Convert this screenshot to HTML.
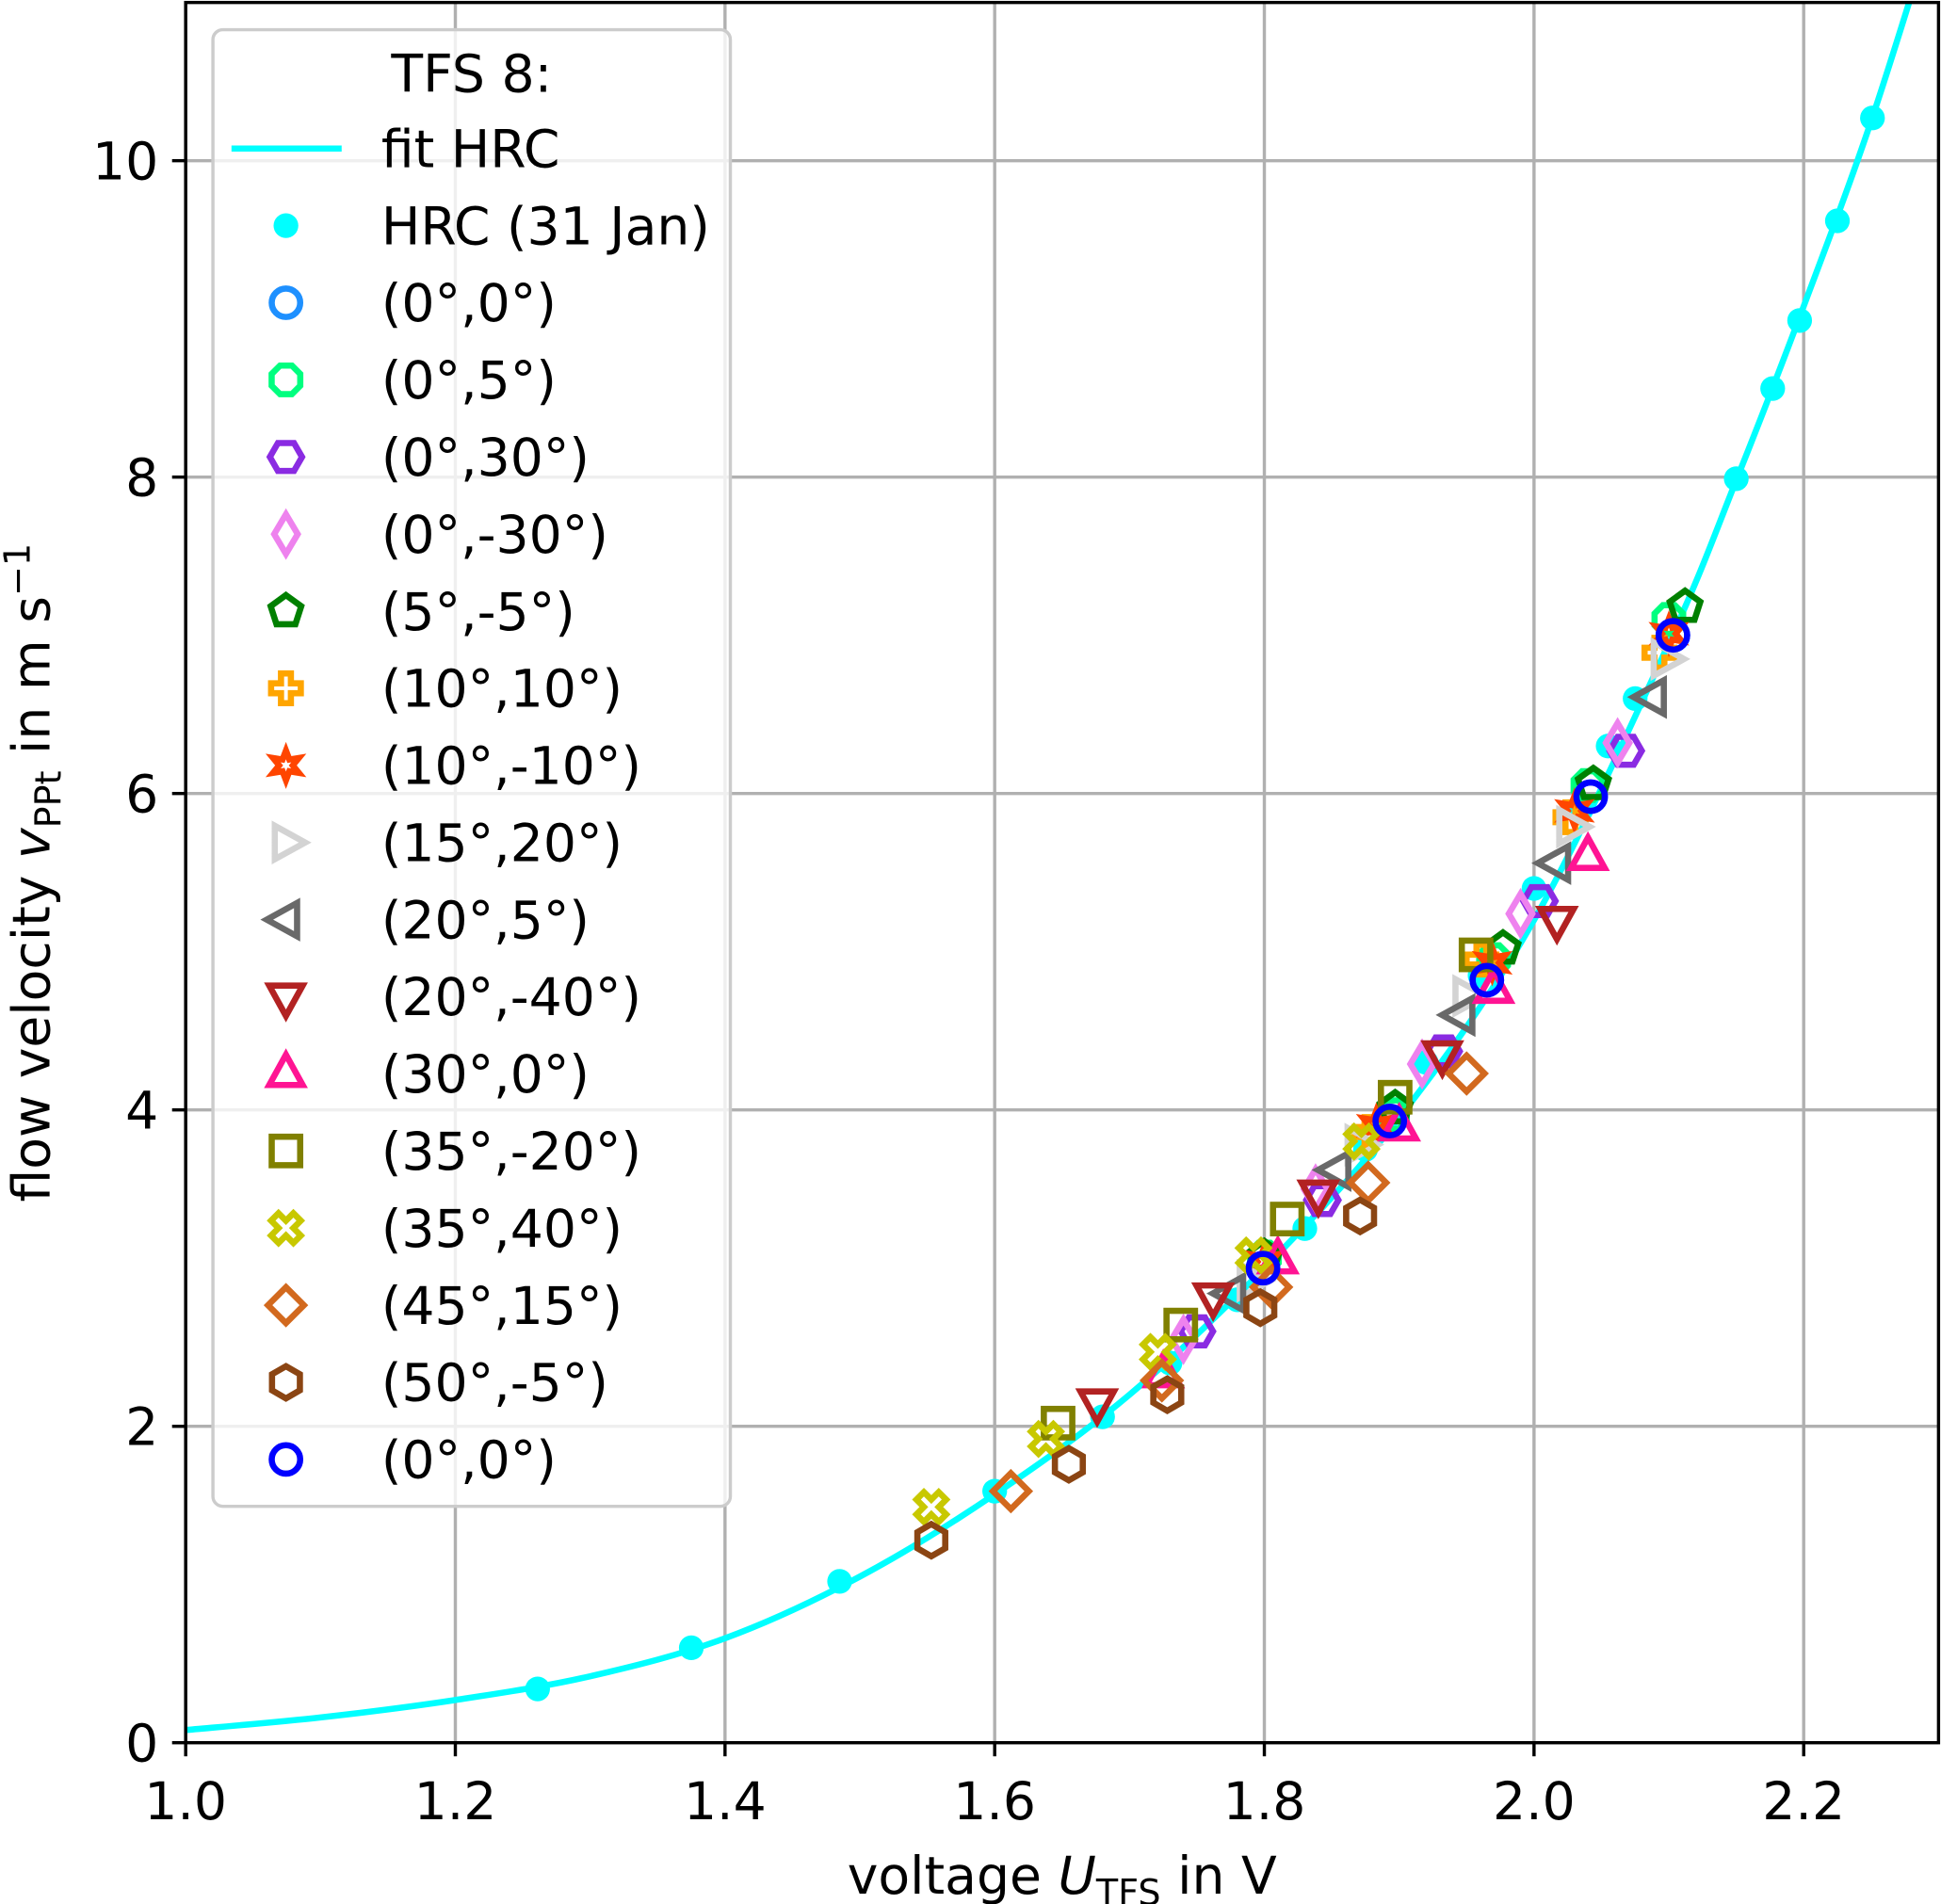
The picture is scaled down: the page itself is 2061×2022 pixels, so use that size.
<!DOCTYPE html>
<html><head><meta charset="utf-8"><style>
html,body{margin:0;padding:0;background:#fff;}
svg{display:block;font-family:"DejaVu Sans","Liberation Sans",sans-serif;}
</style></head><body>
<svg id="chart" width="2061" height="2022" viewBox="0 0 1568 1538.3" xmlns="http://www.w3.org/2000/svg">
<g id="grid"></g>
<g id="fit"></g>
<g id="marks"></g>
<rect x="150" y="2" width="1416" height="1406" fill="none" stroke="#000" stroke-width="2.6"/>
<g id="ticks"></g>
<text x="858" y="1530" font-size="42" text-anchor="middle">voltage <tspan font-style="italic">U</tspan><tspan font-size="29" dy="9">TFS</tspan><tspan dy="-9"> in V</tspan></text>
<text transform="translate(40,705) rotate(-90)" font-size="42" text-anchor="middle">flow velocity <tspan font-style="italic">v</tspan><tspan font-size="29" dy="9">PPt</tspan><tspan dy="-9"> in m s</tspan><tspan font-size="29" dy="-16">−1</tspan></text>
<g id="legend"></g>
</svg>
<script>
const xTicks=[1.0,1.2,1.4,1.6,1.8,2.0,2.2];
const yTicks=[0,2,4,6,8,10];
const fitU=[1.0,1.1,1.2,1.3,1.4,1.5,1.6,1.7,1.8,1.9,2.0,2.1,2.15,2.2,2.25,2.3];
const fitV=[0.08,0.16,0.27,0.42,0.66,1.05,1.57,2.2,3.0,3.95,5.2,6.95,7.98,9.08,10.25,11.6];
const hrcU=[1.261,1.375,1.485,1.6,1.68,1.73,1.78,1.83,1.875,1.92,1.96,2.0,2.035,2.055,2.075,2.15,2.177,2.197,2.225,2.251];
const hrcV=[0.34,0.6,1.02,1.59,2.06,2.4,2.8,3.25,3.75,4.3,4.85,5.4,5.9,6.3,6.6,7.99,8.56,8.99,9.62,10.27];
const seriesNames=["(0°,0°)","(0°,5°)","(0°,30°)","(0°,-30°)","(5°,-5°)","(10°,10°)","(10°,-10°)","(15°,20°)","(20°,5°)","(20°,-40°)","(30°,0°)","(35°,-20°)","(35°,40°)","(45°,15°)","(50°,-5°)","(0°,0°)"];
const seriesColors=["#1e90ff","#00ff7f","#8a2be2","#ee82ee","#008000","#ffa500","#ff4500","#d3d3d3","#696969","#b22222","#ff1493","#808000","#c8c800","#d2691e","#8b4513","#0000ff"];
const seriesShapes=["o","8","H","d","p","P","*",">","<","v","^","s","X","D","h","o"];
const sU=[
[1.799,1.893,1.965,2.042,2.103],
[1.80,1.895,1.97,2.04,2.10],
[1.75,1.843,1.933,2.004,2.068],
[1.74,1.838,1.917,1.99,2.062],
[1.80,1.897,1.977,2.044,2.112],
[1.878,1.961,2.027,2.093],
[1.80,1.883,1.969,2.03,2.10],
[1.79,1.87,1.95,2.027,2.097],
[1.776,1.854,1.946,2.017,2.088],
[1.676,1.762,1.84,1.932,2.017],
[1.725,1.81,1.90,1.97,2.04],
[1.647,1.738,1.817,1.897,1.957],
[1.553,1.638,1.721,1.792,1.872],
[1.612,1.724,1.805,1.877,1.95],
[1.553,1.655,1.728,1.797,1.871],
[1.799,1.893,1.965,2.042,2.103]];
const sV=[
[3.0,3.93,4.82,5.98,7.0],
[3.07,3.97,4.95,6.05,7.1],
[2.6,3.43,4.37,5.32,6.27],
[2.55,3.5,4.29,5.24,6.32],
[3.07,4.01,5.02,6.06,7.18],
[3.86,4.95,5.85,6.89],
[3.04,3.9,4.93,5.89,7.01],
[2.92,3.78,4.72,5.79,6.85],
[2.84,3.62,4.6,5.56,6.61],
[2.15,2.82,3.47,4.35,5.2],
[2.33,3.05,3.89,4.76,5.6],
[2.02,2.64,3.31,4.08,4.98],
[1.49,1.92,2.47,3.08,3.8],
[1.59,2.29,2.88,3.54,4.23],
[1.28,1.76,2.2,2.75,3.33],
[3.0,3.93,4.82,5.98,7.0]];

const NS="http://www.w3.org/2000/svg";
const X0=150,X1=1566,Y0=1408,Y1=2;
const FS=42;
function sx(u){return X0+(u-1.0)/(2.3-1.0)*(X1-X0);}
function sy(v){return Y0-v/11*(Y0-Y1);}
function mk(tag,attrs,parent){const e=document.createElementNS(NS,tag);for(const k in attrs)e.setAttribute(k,attrs[k]);parent.appendChild(e);return e;}
const grid=document.getElementById('grid'),ticks=document.getElementById('ticks');
xTicks.forEach(t=>{const x=sx(t);
 const g=mk('line',{x1:x,x2:x,y1:Y1,y2:Y0,stroke:'#b0b0b0','stroke-width':2.6},grid);
 
 
 const tk=mk('line',{x1:x,x2:x,y1:Y0,y2:Y0+11,stroke:'#000','stroke-width':2.6},ticks);
 
 
 const tl=mk('text',{x:x,y:Y0+62,'font-size':FS,'text-anchor':'middle'},ticks);tl.textContent=t.toFixed(1);
 
 });
yTicks.forEach(t=>{const y=sy(t);
 const g=mk('line',{x1:X0,x2:X1,y1:y,y2:y,stroke:'#b0b0b0','stroke-width':2.6},grid);
 
 
 const tk=mk('line',{x1:X0-11,x2:X0,y1:y,y2:y,stroke:'#000','stroke-width':2.6},ticks);
 
 
 const tl=mk('text',{x:X0-22,y:y+15,'font-size':FS,'text-anchor':'end'},ticks);tl.textContent=String(t);
 
 });
(function(){const p=fitU.map((u,i)=>[sx(u),sy(fitV[i])]);let d='M'+p[0][0]+','+p[0][1];
 for(let i=0;i<p.length-1;i++){const a=p[Math.max(0,i-1)],b=p[i],c=p[i+1],e=p[Math.min(p.length-1,i+2)];
 d+=' C'+(b[0]+(c[0]-a[0])/6)+','+(b[1]+(c[1]-a[1])/6)+' '+(c[0]-(e[0]-b[0])/6)+','+(c[1]-(e[1]-b[1])/6)+' '+c[0]+','+c[1];}
 const fg=document.getElementById('fit');
 mk('clipPath',{id:'clip'},fg).appendChild(document.createElementNS(NS,'rect'));
 const r=fg.querySelector('rect');r.setAttribute('x',X0);r.setAttribute('y',Y1);r.setAttribute('width',X1-X0);r.setAttribute('height',Y0-Y1);
 const l=mk('path',{d:d,fill:'none',stroke:'#00ffff','stroke-width':5,'clip-path':'url(#clip)'},fg);
 
 })();
function poly(n,r,rot){const pts=[];for(let i=0;i<n;i++){const a=rot+i*2*Math.PI/n;pts.push((r*Math.sin(a)).toFixed(2)+','+(-r*Math.cos(a)).toFixed(2));}return pts.join(' ');}
function shape(s,x,y,col,parent){const g=mk('g',{transform:'translate('+x+','+y+')',fill:'none',stroke:col,'stroke-width':5,'stroke-linejoin':'miter'},parent);
 if(s==='o')mk('circle',{r:11.5},g);
 else if(s==='8')mk('polygon',{points:poly(8,12.5,Math.PI/8)},g);
 else if(s==='H')mk('polygon',{points:poly(6,13,Math.PI/2)},g);
 else if(s==='h')mk('polygon',{points:poly(6,13,0)},g);
 else if(s==='p')mk('polygon',{points:poly(5,13,0)},g);
 else if(s==='d')mk('polygon',{points:'0,-16 9.5,0 0,16 -9.5,0'},g);
 else if(s==='D')mk('polygon',{points:'0,-14.5 14.5,0 0,14.5 -14.5,0'},g);
 else if(s==='s')mk('rect',{x:-11.5,y:-11.5,width:23,height:23},g);
 else if(s==='^')mk('polygon',{points:'0,-15.5 13.5,9 -13.5,9'},g);
 else if(s==='v')mk('polygon',{points:'0,15.5 13.5,-9 -13.5,-9'},g);
 else if(s==='>')mk('polygon',{points:'15.5,0 -9,13.5 -9,-13.5'},g);
 else if(s==='<')mk('polygon',{points:'-15.5,0 9,13.5 9,-13.5'},g);
 else if(s==='P')mk('polygon',{points:'-4,-12 4,-12 4,-4 12,-4 12,4 4,4 4,12 -4,12 -4,4 -12,4 -12,-4 -4,-4'},g);
 else if(s==='X')mk('polygon',{points:'-6,-12 0,-6 6,-12 12,-6 6,0 12,6 6,12 0,6 -6,12 -12,6 -6,0 -12,-6'},g);
 else if(s==='*'){const pts=[];for(let i=0;i<12;i++){const rr=i%2?5.5:12,a=i*Math.PI/6;pts.push((rr*Math.sin(a)).toFixed(2)+','+(-rr*Math.cos(a)).toFixed(2));}mk('polygon',{points:pts.join(' ')},g);}
 return g;}
const marks=document.getElementById('marks');
hrcU.forEach((u,i)=>{const c=mk('circle',{cx:sx(u),cy:sy(hrcV[i]),r:10,fill:'#00ffff'},marks);
 
 });
sU.forEach((arr,k)=>{arr.forEach((u,i)=>{const g=shape(seriesShapes[k],sx(u),sy(sV[k][i]),seriesColors[k],marks);
 
 });});
const lg=document.getElementById('legend');
const box=mk('rect',{x:172,y:24,width:418,height:1193,rx:8,fill:'#fff','fill-opacity':0.8,stroke:'#cccccc','stroke-width':2.6},lg);


const ttl=mk('text',{x:381,y:74,'font-size':FS,'text-anchor':'middle'},lg);ttl.textContent='TFS 8:';


const RY=120,DY=62.3,TX=308,MX=231;
const l0=mk('line',{x1:187,x2:276,y1:RY,y2:RY,stroke:'#00ffff','stroke-width':5},lg);


const t0=mk('text',{x:TX,y:RY+15,'font-size':FS},lg);t0.textContent='fit HRC';


const c1=mk('circle',{cx:MX,cy:RY+DY,r:10,fill:'#00ffff'},lg);


const t1=mk('text',{x:TX,y:RY+DY+15,'font-size':FS},lg);t1.textContent='HRC (31 Jan)';


seriesNames.forEach((n,k)=>{const y=RY+DY*(k+2);
 const g=shape(seriesShapes[k],MX,y,seriesColors[k],lg);
 
 
 const t=mk('text',{x:TX,y:y+15,'font-size':FS},lg);t.textContent=n;
 
 });
</script>
</body></html>
